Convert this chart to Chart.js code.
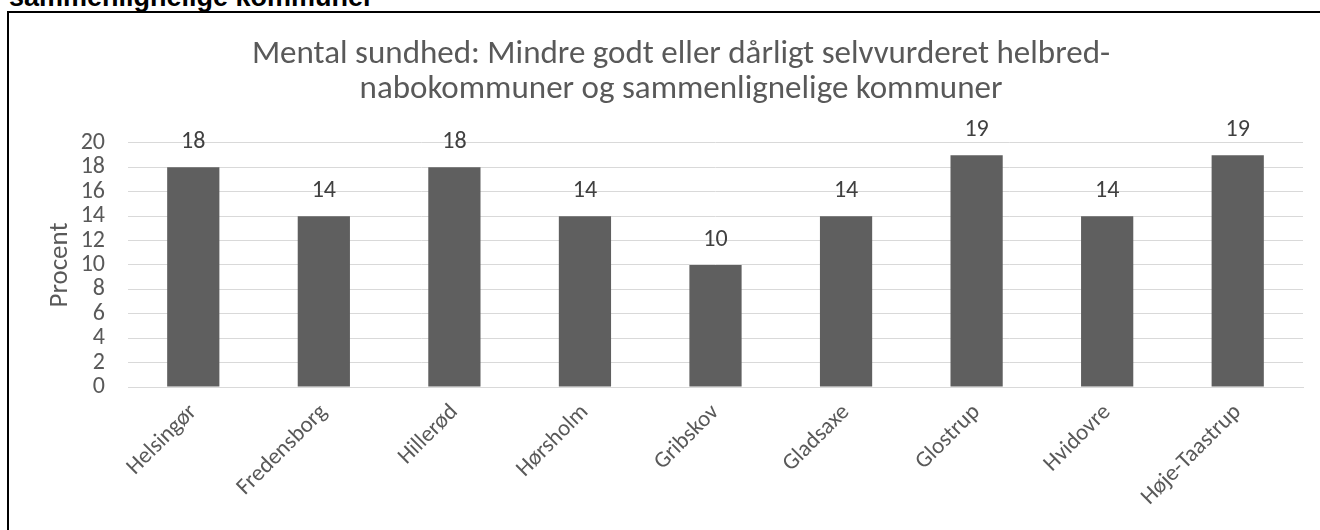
<!DOCTYPE html>
<html><head><meta charset="utf-8">
<script src="https://cdn.jsdelivr.net/npm/chart.js@4.4.1/dist/chart.umd.min.js"></script>
<style>
html,body{margin:0;padding:0;overflow:hidden;background:#fff;width:1320px;height:530px;position:relative}
#cap{position:absolute;left:9px;top:-16px;font:bold 27px/27px "Liberation Sans",Arial,sans-serif;color:#000;white-space:nowrap}
#frame{position:absolute;left:7px;top:11px;width:1400px;height:600px;border-left:2px solid #000;border-top:2px solid #000}
#c{position:absolute;left:0;top:0}
</style></head><body>
<div id="cap">sammenlignelige kommuner</div>
<div id="frame"></div>
<canvas id="c" width="1362" height="530"></canvas>
<script>
const categories = ['Helsingør','Fredensborg','Hillerød','Hørsholm','Gribskov','Gladsaxe','Glostrup','Hvidovre','Høje-Taastrup'];
const values = [18,14,18,14,10,14,19,14,19];
const yTickValues = [0,2,4,6,8,10,12,14,16,18,20];
const titleLines = ['Mental sundhed: Mindre godt eller dårligt selvvurderet helbred-','nabokommuner og sammenlignelige kommuner'];
const yAxisTitle = 'Procent';

const FONT = 'Carlito, Lato, "Open Sans", sans-serif';
const TXT = '#595959';
const TITLE_CENTER = 681;

const dataLabels = {
  id: 'dataLabels',
  afterDatasetsDraw(chart) {
    const ctx = chart.ctx;
    const meta = chart.getDatasetMeta(0);
    ctx.save();
    ctx.font = '24px ' + FONT;
    ctx.fillStyle = '#404040';
    ctx.textAlign = 'center';
    ctx.textBaseline = 'middle';
    meta.data.forEach((bar, i) => {
      ctx.fillText(String(values[i]), bar.x, bar.y - 25);
    });
    ctx.restore();
  }
};

const centerTitle = {
  id: 'centerTitle',
  afterLayout(chart) {
    const tb = chart.titleBlock;
    if (tb) {
      tb.left = 2 * TITLE_CENTER - tb.right;
      tb.width = tb.right - tb.left;
    }
  }
};

new Chart(document.getElementById('c'), {
  type: 'bar',
  data: {
    labels: categories,
    datasets: [{
      data: values,
      backgroundColor: '#5f5f5f',
      borderWidth: 0,
      barPercentage: 0.4,
      categoryPercentage: 1.0
    }]
  },
  plugins: [dataLabels, centerTitle],
  options: {
    responsive: false,
    animation: false,
    devicePixelRatio: 1,
    layout: { padding: { left: 0, right: 59, top: 0, bottom: 0 } },
    plugins: {
      legend: { display: false },
      tooltip: { enabled: false },
      title: {
        display: true,
        text: titleLines,
        color: TXT,
        font: { family: FONT, size: 33, weight: 'normal', lineHeight: 1.06 },
        padding: { top: 37.5, bottom: 35.5 }
      }
    },
    scales: {
      x: {
        grid: { display: false, drawTicks: false },
        border: { display: true, color: '#d9d9d9', width: 1 },
        ticks: { color: TXT, font: { family: FONT, size: 23 }, minRotation: 45, maxRotation: 45, padding: 12, autoSkip: false },
        afterFit(s) { s.height = 143; }
      },
      y: {
        min: 0, max: 20,
        afterBuildTicks(s) { s.ticks = yTickValues.map(v => ({ value: v })); },
        grid: { color: '#d9d9d9', lineWidth: 1, drawTicks: false },
        border: { display: false },
        ticks: { color: TXT, font: { family: FONT, size: 24 }, padding: 23, autoSkip: false },
        title: { display: true, text: yAxisTitle, color: TXT, font: { family: FONT, size: 27 }, padding: { top: 44, bottom: 0 } },
        afterFit(s) { s.width = 128; }
      }
    }
  }
});
</script>
</body></html>
